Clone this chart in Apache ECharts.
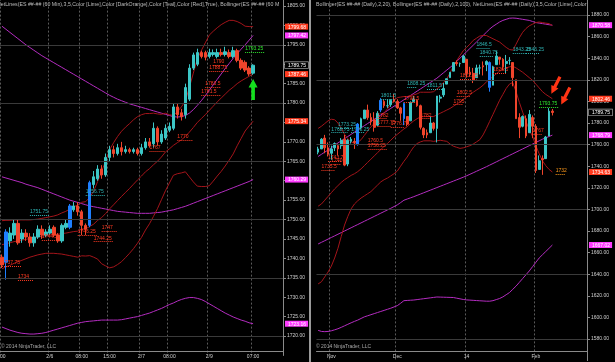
<!DOCTYPE html>
<html>
<head>
<meta charset="utf-8">
<script src="https://cdn.jsdelivr.net/npm/echarts@6.0.0/dist/echarts.min.js"></script>
<style>
html,body{margin:0;padding:0;background:#000;overflow:hidden}
#c{width:615px;height:362px}
</style>
</head>
<body>
<div id="c"></div>
<script>
// ================= LEFT PANEL : 60 Min =================
const leftCatCount = 71;
const leftTickIdx  = [0, 12, 20, 27, 35, 42, 52, 63];
const leftTickText = [':00', '2/6', '08:00', '15:00', '2/7', '08:00', '2/9', '07:00'];
// [open, close, low, high]
const leftCandles = [
[1740.3,1738.3,1737.5,1741],[1739,1746.8,1734.5,1747.5],[1744.5,1746.5,1743,1748],[1746,1749,1745,1750],
[1749,1744,1743.5,1750],[1745,1746.5,1744,1747.5],[1746.5,1745.5,1744.5,1747.5],[1745.5,1744,1743,1746.5],
[1744,1745.5,1743,1746.5],[1745.5,1747.5,1745,1748.5],[1747.5,1746,1745,1748.5],[1746,1746.8,1745.5,1747.5],
[1746.5,1747.5,1746,1748.5],[1748,1746,1745.5,1748.5],[1746,1744.5,1744,1746.5],[1744.5,1748.5,1744,1749],
[1748,1749,1747.5,1750],[1748,1753.5,1747.5,1754],[1752.5,1753.5,1752,1754.5],[1753.5,1752,1751,1754.5],
[1752,1748.5,1746,1752.5],[1748.5,1747.5,1746,1749],[1748.5,1759.5,1748,1760],[1759,1761,1758,1762.5],
[1760.5,1763,1760,1764],[1763,1761.5,1760.5,1764],[1761.5,1766,1761,1767],[1766,1768,1765,1769],
[1768,1767,1766,1769],[1767,1768.5,1766.5,1769.5],[1768.5,1767.5,1766.5,1770],[1767.5,1768,1767,1769],
[1768,1767.5,1767,1768.5],[1767.5,1768,1767,1768.5],[1768,1767,1766.5,1768.5],[1767,1768.5,1766.5,1769.5],
[1768.5,1770,1768,1771],[1770,1769,1768.5,1771],[1769.5,1773.5,1768.5,1775],[1773.5,1770,1769,1774],
[1770,1772,1769.5,1773],[1771,1773.5,1770.5,1774.5],[1773,1774,1772.5,1775],[1773.5,1779,1773,1780],
[1779,1777,1776,1780],[1777.5,1776.5,1775.5,1778.5],[1777,1784,1776,1785],[1781,1789,1780.5,1790],
[1789,1792.4,1788.5,1793],[1790,1793,1789.5,1794],[1793,1792,1791.5,1793.5],[1793,1791.8,1791,1793.5],
[1792,1793,1791.5,1794],[1792.5,1793,1792,1793.8],[1792,1793,1791.5,1794],[1793,1792.5,1792,1794],
[1792.5,1793.2,1792,1794.5],[1793,1792,1791.5,1793.8],[1792,1793.5,1791.5,1794.5],[1793.5,1791,1790.5,1794],
[1791,1789,1788.5,1791.5],[1790.5,1788.5,1788,1791],[1789,1787.5,1787,1789.5],[1787.7,1789.75,1787.3,1790]
];
const leftBlue = [1, 17, 22];
const leftUpper20 = [
1749.7,1749.8,1749.8,1749.9,1749.9,1749.9,1749.9,1749.9,1750.0,1750.1,
1750.3,1750.5,1750.7,1750.9,1751.2,1751.7,1752.1,1752.7,1753.3,1753.7,
1754.45,1754.6,1755.7,1757.3,1759.8,1762.4,1765.05,1767.95,1769.8,1771.4,
1772.75,1773.8,1774.7,1775.7,1776.5,1777.0,1777.3,1777.3,1777.4,1777.2,
1777.1,1777.4,1777.0,1776.8,1777.8,1779.0,1780.5,1784.0,1787.7,1791.4,
1793.5,1795.5,1797.5,1798.5,1799.4,1800.2,1800.8,1801.3,1801.3,1801.0,
1800.5,1799.8,1799.7,1799.68];
const leftMid20 = [
1743.5,1743.8,1744.0,1744.3,1744.5,1744.7,1744.9,1745.1,1745.3,1745.5,
1745.7,1745.9,1746.0,1746.1,1746.2,1746.4,1746.5,1746.7,1746.9,1747.0,
1747.55,1747.6,1748.2,1748.8,1749.8,1750.5,1751.55,1752.75,1753.8,1754.9,
1755.95,1757.0,1758.0,1759.1,1760.2,1761.2,1762.3,1763.1,1764.1,1765.0,
1766.1,1767.4,1768.2,1769.1,1769.8,1770.5,1771.4,1772.5,1773.7,1775.0,
1776.0,1777.0,1778.1,1779.2,1780.3,1781.3,1782.3,1783.3,1784.1,1785.0,
1785.7,1786.3,1786.9,1787.46];
const leftLower20 = [
1737.3,1737.8,1738.2,1738.7,1739.1,1739.5,1739.9,1740.3,1740.6,1740.9,
1741.1,1741.3,1741.3,1741.3,1741.2,1741.1,1740.9,1740.7,1740.5,1740.3,
1740.65,1740.6,1740.7,1740.3,1739.8,1738.6,1738.05,1737.55,1737.8,1738.4,
1739.15,1740.2,1741.3,1742.5,1743.9,1745.4,1747.3,1748.9,1750.8,1752.8,
1755.1,1757.4,1759.4,1761.4,1761.8,1762.0,1762.3,1761.0,1759.7,1758.6,
1758.5,1758.5,1758.7,1759.9,1761.2,1762.4,1763.8,1765.3,1766.9,1769.0,
1770.9,1772.8,1774.1,1775.34];
const leftUpper100 = [
1799.8,1799.0,1798.2,1797.4,1796.6,1795.8,1795.0,1794.3,1793.6,1792.9,
1792.2,1791.6,1791.0,1790.4,1789.8,1789.2,1788.6,1788.0,1787.4,1786.8,
1786.2,1785.6,1785.0,1784.4,1783.8,1783.2,1782.6,1782.0,1781.5,1781.0,
1780.6,1780.2,1779.8,1779.5,1779.2,1778.9,1778.6,1778.3,1778.0,1777.7,
1777.4,1777.1,1776.8,1776.5,1776.4,1776.5,1776.8,1777.4,1778.3,1779.4,
1780.6,1781.9,1783.3,1784.7,1786.1,1787.5,1788.9,1790.2,1791.5,1792.7,
1793.9,1795.0,1796.2,1797.42];
const leftMid100 = [
1761.0,1760.7,1760.4,1760.1,1759.8,1759.5,1759.1,1758.8,1758.5,1758.2,
1757.8,1757.4,1757.0,1756.6,1756.2,1755.8,1755.4,1755.0,1754.7,1754.4,
1754.1,1753.8,1753.5,1753.3,1753.1,1752.9,1752.7,1752.5,1752.3,1752.1,
1752.0,1751.9,1751.8,1751.7,1751.6,1751.6,1751.6,1751.6,1751.7,1751.8,
1751.9,1752.1,1752.3,1752.5,1752.8,1753.1,1753.4,1753.8,1754.2,1754.6,
1755.0,1755.4,1755.8,1756.2,1756.6,1757.0,1757.4,1757.8,1758.2,1758.6,
1759.0,1759.4,1759.8,1760.29];
const leftLower100 = [
1722.3,1721.9,1721.5,1721.2,1720.9,1720.7,1720.6,1720.5,1720.5,1720.6,
1720.7,1720.9,1721.2,1721.5,1721.8,1722.1,1722.4,1722.7,1723.0,1723.3,
1723.5,1723.7,1723.8,1723.9,1724.0,1724.1,1724.1,1724.1,1724.1,1724.1,
1724.2,1724.4,1724.6,1724.8,1725.0,1725.3,1725.6,1725.9,1726.3,1726.7,
1727.1,1727.6,1728.1,1728.5,1729.0,1729.4,1729.7,1729.9,1729.9,1729.7,
1729.4,1728.9,1728.3,1727.7,1727.1,1726.5,1725.9,1725.4,1724.9,1724.5,
1724.1,1723.8,1723.4,1723.16];
const leftGridLevels = [1720, 1735, 1750, 1765, 1780, 1795];
const leftTagValues = [1799.68, 1797.42, 1789.75, 1787.46, 1775.34, 1760.29, 1723.16];
const leftTagKinds  = ['r', 'm', 'k', 'r', 'r', 'm', 'm'];
// [text, startIndex, endIndex, price, colour]
const leftNotes = [
['1737.75',0,5,1738.0,'r'],['1734',4,8,1734.3,'r'],['1744.5',10,14,1744.6,'r'],
['1751.75',7,12,1751.2,'t'],['1756.75',21,26,1756.3,'t'],['1746.25',19,24,1745.9,'r'],
['1747',25,29,1747.0,'r'],['1744.25',23,28,1744.3,'r'],['1767',37,41,1767.7,'r'],
['1770',44,48,1770.5,'r'],['1781.5',50,55,1782.0,'r'],['1783.5',51,55,1784.0,'r'],
['1788.75',52,57,1788.3,'r'],['1790',53,56,1789.8,'r'],['1793.25',61,66,1793.0,'g']
];
const leftArrow = [63, 1783.5];

// ================= RIGHT PANEL : Daily =================
const rightCatCount = 82;
const rightTickIdx  = [4, 24, 45, 66];
const rightTickText = ['Nov', 'Dec', '14', 'Feb'];
const rightCandles = [
[1753,1756,1751,1758],[1756,1765,1756,1766],[1766,1757,1752,1769],[1757,1751,1749,1762],
[1752,1756,1746,1759],[1757,1761,1754,1762],[1759,1756,1750,1761],[1759,1764,1756,1766],
[1765,1741,1740,1769],[1742,1764,1740,1765],[1763,1765,1761,1767],[1763,1762,1756,1766],
[1760,1779,1759,1780],[1776,1784,1774,1785],[1784,1792,1784,1792],[1792,1785,1783,1797],
[1785,1781,1778,1789],[1783,1776,1772,1790],[1778,1789,1777,1791],[1792,1801,1790,1803],
[1800,1796,1794,1802],[1796,1796,1794,1802],[1797,1801,1795,1802],[1802,1800,1799,1807],
[1800,1794,1793,1802],[1794,1789,1782,1795],[1784,1798,1778,1799],[1786,1779,1777,1786],
[1782,1799,1782,1800],[1800,1802,1799,1805],[1801,1796,1795,1802],[1796,1776,1774,1797],
[1775,1769,1766,1776],[1771,1769,1766,1774],[1771,1780,1771,1786],[1780,1775,1773,1781],
[1775,1805,1762,1805],[1803,1804,1799,1806],[1806,1812,1804,1817],[1816,1821,1816,1821],
[1822,1827,1822,1827],[1828,1836,1828,1836],[1836,1835,1833,1838],[1835,1835,1832,1836],
[1836,1842,1836,1843],[1839,1826,1822,1839],[1827,1825,1823,1832],[1826,1820,1817,1831],
[1822,1831,1822,1834],[1831,1831,1825,1834],[1833,1832,1824,1837],[1834,1837,1828,1838],
[1836,1813,1809,1837],[1815,1832,1815,1833],[1834,1842,1834,1846.5],[1841,1839,1834,1841],
[1839,1832,1829,1840],[1835,1837,1826,1843],[1838,1838,1834,1841],[1836,1822,1814,1836],
[1820,1784,1784,1820],[1785,1776,1766,1789],[1777,1786,1776,1787],[1784,1768,1766,1787],
[1771,1788,1771,1792],[1785,1777,1766,1787],[1777,1736,1733.75,1779],[1737,1745,1737,1750],
[1747,1746,1732,1750],[1747,1767,1747,1768],[1768,1791,1768,1793.75],[1791,1789.75,1787,1793]
];
const rightBlue = [12, 19, 26, 52];
const rightUpper20 = [
1775,1777,1779.5,1782,1783.5,1783,1780,1775,1769.5,1765.5,
1762.5,1761,1762,1764.5,1768.5,1772.5,1776.5,1779.5,1782.5,1785.5,
1789.5,1793,1797,1801,1803.5,1804,1804.5,1804.5,1805.5,1806,
1807,1808.5,1808.5,1808.5,1808.5,1809,1811.5,1814,1817.5,1821,
1826.5,1832.5,1837.5,1842.5,1847,1850,1853,1856.5,1858.5,1860.5,
1861,1861,1859.5,1858,1856.5,1855,1852.5,1850,1848,1847.5,
1853,1859,1864,1867.5,1870,1871.5,1873,1873.5,1873,1872.5,
1872,1870.29];
const rightMid20 = [
1703,1705,1708.5,1712,1715.5,1719,1722,1725,1727.5,1729.5,
1731.5,1733,1735,1737.5,1740.5,1743.5,1746.5,1749.5,1752.5,1755.5,
1758.5,1761,1764,1767,1769.5,1772,1774.5,1776.5,1779.5,1782,
1784,1785.5,1786,1786,1786,1786,1787.5,1789,1790.5,1792,
1793.5,1795.5,1797.5,1799.5,1802,1804,1806,1808.5,1810.5,1812.5,
1815,1818,1820.5,1823,1825.5,1828,1829.5,1831,1832,1832.5,
1831,1829,1827,1824.5,1822,1819.5,1816,1812.5,1809,1806.5,
1804.5,1802.46];
const rightLower20 = [
1631,1633,1637.5,1642,1647.5,1655,1664,1675,1685.5,1693.5,
1700.5,1705,1708,1710.5,1712.5,1714.5,1716.5,1719.5,1722.5,1725.5,
1727.5,1729,1731,1733,1735.5,1740,1744.5,1748.5,1753.5,1758,
1761,1762.5,1763.5,1763.5,1763.5,1763,1763.5,1764,1763.5,1763,
1760.5,1758.5,1757.5,1756.5,1757,1758,1759,1760.5,1762.5,1764.5,
1769,1775,1781.5,1788,1794.5,1801,1806.5,1812,1816,1817.5,
1809,1799,1790,1781.5,1774,1767.5,1759,1751.5,1745,1740.5,
1737,1734.63];
const rightUpper100 = [
1749,1751,1753,1755,1757,1759.5,1761.5,1763.5,1765.5,1767.5,
1769.5,1771.5,1773.5,1775.5,1777.5,1779.5,1781.5,1783.5,1785.5,1787.5,
1789.5,1791.5,1793.5,1795.5,1797.5,1799.5,1801.5,1803.5,1805.5,1807.5,
1809.5,1811.5,1813.5,1815.5,1817.5,1819.5,1821.5,1824,1826.5,1829,
1831.5,1834,1837,1840,1843,1846,1849,1852,1855,1858,
1861,1864,1867,1869.5,1871.5,1873.5,1875,1876,1877,1877.2,
1877,1876.5,1876,1875.5,1875,1874,1873,1872.5,1872,1871.5,
1871,1870.58];
const rightMid100 = [
1668,1669.5,1671,1672.5,1674,1675.5,1677,1678.5,1680,1681.5,
1683,1684.5,1686,1687.5,1689,1690.5,1692,1693.5,1695,1696.5,
1698,1699.5,1701,1702.6,1704.2,1706.3,1708.5,1709.6,1710.7,1711.8,
1713,1714.2,1715.4,1716.6,1717.8,1719,1720.2,1721.4,1722.6,1723.8,
1725,1726.2,1727.4,1728.6,1729.8,1731.1,1732.5,1733.9,1735.3,1736.7,
1738.1,1739.5,1741,1742.5,1744,1745.5,1747,1748.5,1750,1751.5,
1753,1754.5,1756,1757.5,1759,1760.5,1762,1763.5,1765,1766.3,
1767.5,1768.79];
const rightLower100 = [
1588,1587,1586.8,1587,1587.6,1588.5,1589.5,1590.8,1592.2,1593.6,
1595,1596.3,1597.5,1599,1600.5,1601.5,1602.5,1603.5,1604.5,1605.5,
1606.5,1607.5,1608.5,1609.7,1610.9,1613.1,1615.5,1615.7,1615.9,1616.1,
1616.5,1616.9,1617.3,1617.7,1618.1,1618.5,1618.9,1618.8,1618.7,1618.6,
1618.5,1618.4,1617.8,1617.2,1616.6,1616.2,1616.0,1615.8,1615.6,1615.4,
1615.2,1615.0,1615.0,1615.5,1616.5,1617.5,1619.0,1621.0,1623.0,1626.0,
1629,1632.5,1636,1639.5,1643,1647,1651,1655,1658,1661,
1664,1667.02];
const rightGridLevels = [1580, 1640, 1700, 1760, 1820, 1880];
const rightTagValues = [1870.58, 1802.46, 1789.75, 1768.79, 1734.63, 1667.02];
const rightTagKinds  = ['m', 'r', 'k', 'm', 'r', 'm'];
const rightNotes = [
['1773.25',6,11,1775,'t'],['1768.75',4,9,1771,'t'],['1770.25',10,14,1771,'t'],
['1743.75',3,7,1745,'r'],['1740',4,7,1741.5,'r'],['1735.5',1,5,1736.5,'r'],
['1782',18,21,1784,'r'],['1777.75',18,22,1777,'r'],['1776.75',22,26,1776,'r'],
['1760.5',15,19,1760,'r'],['1756.25',15,21,1756,'r'],['1801.5',19,23,1802,'t'],
['1808.25',27,30,1813,'t'],['1798.5',26,30,1799.5,'r'],['1782',31,34,1784,'r'],
['1811.5',33,38,1811,'t'],['1846.5',48,52,1849,'t'],['1840.75',49,53,1842,'t'],
['1843.25',59,63,1845,'t'],['1846.25',63,67,1845,'t'],['1822.25',43,48,1820.5,'r'],
['1826.5',53,57,1826,'r'],['1802.5',42,46,1804.5,'r'],['1795',41,44,1797,'r'],
['1793.75',67,73,1795,'g'],['1767',65,68,1769.5,'r'],['1732',72,75,1733,'o']
];
const rightArrows = [[72, 1815], [75, 1805]];

// ================= BUILD =================
const FONT = 'Liberation Sans, Arial, sans-serif';
const UP = '#3cc6c6', DOWN = '#f0452c', BLUE = '#1e7fff';
const DARKRED = '#a3141a', PURPLE = '#b42cc0';
const NOTE = { r: '#ff3a22', t: '#2fb4b4', g: '#2ee62e', o: '#ff9a1a' };
const ARROW = 'path://M5,0 L10,9 L7,9 L7,22 L3,22 L3,9 L0,9 Z';

function cats(n, idx, txt) {
  const a = [];
  for (let i = 0; i < n; i++) a.push('');
  idx.forEach((k, j) => { a[k] = txt[j]; });
  return a;
}
function candleData(arr, blue) {
  return arr.map((d, i) => blue.indexOf(i) >= 0
    ? { value: d, itemStyle: { color: BLUE, color0: BLUE, borderColor: BLUE, borderColor0: BLUE } }
    : d);
}
function markLines(levels, notes) {
  const data = levels.map(v => ({ yAxis: v, lineStyle: { color: '#3a3a3a', type: 'solid', width: 1 }, label: { show: false } }));
  notes.forEach(n => {
    data.push([
      { coord: [n[1], n[3]], lineStyle: { color: NOTE[n[4]], type: [1, 1], width: 1 },
        label: { show: true, position: 'insideStartTop', distance: [0, 1], formatter: n[0], color: NOTE[n[4]], fontSize: 5, fontFamily: FONT } },
      { coord: [n[2], n[3]] }
    ]);
  });
  return { silent: true, symbol: 'none', animation: false, data: data };
}
function tagFormatter(vals, kinds) {
  return function (v) {
    for (let j = 0; j < vals.length; j++) if (Math.abs(vals[j] - v) < 1e-6) return '{' + kinds[j] + '|' + vals[j].toFixed(2) + '}';
    return '';
  };
}
const tagRich = {
  r: { backgroundColor: '#ff3a1e', color: '#fff', fontSize: 5, padding: [1, 2, 0, 3], fontFamily: FONT },
  m: { backgroundColor: '#ff3cff', color: '#fff', fontSize: 5, padding: [1, 2, 0, 3], fontFamily: FONT },
  k: { backgroundColor: '#000', color: '#fff', borderColor: '#bbb', borderWidth: 0.6, fontSize: 5, padding: [1, 2, 0, 3], fontFamily: FONT }
};
function lineSeries(data, color, xi, yi) {
  return { type: 'line', data: data, xAxisIndex: xi, yAxisIndex: yi, symbol: 'none', silent: true,
    lineStyle: { color: color, width: 1 }, z: 1, animation: false };
}
function yMain(grid, min, max, interval) {
  return { type: 'value', gridIndex: grid, position: 'right', min: min, max: max, interval: interval,
    axisLine: { show: true, lineStyle: { color: '#8a8a8a' } },
    axisTick: { show: true, length: 3, lineStyle: { color: '#8a8a8a' } },
    splitLine: { show: false },
    axisLabel: { color: '#cfcfcf', fontSize: 5, fontFamily: FONT, margin: 4, showMinLabel: false, showMaxLabel: false,
      formatter: v => v.toFixed(2) } };
}
function yTags(grid, min, max, vals, kinds) {
  return { type: 'value', gridIndex: grid, position: 'right', min: min, max: max, z: 10,
    axisLine: { show: false }, axisTick: { show: false }, splitLine: { show: false },
    axisLabel: { customValues: vals, formatter: tagFormatter(vals, kinds), rich: tagRich, margin: 2, fontSize: 5 } };
}
function xAxisDef(grid, data, tickIdx, offset) {
  return { type: 'category', gridIndex: grid, data: data, boundaryGap: true, offset: offset,
    axisLine: { show: true, lineStyle: { color: '#8a8a8a' } },
    axisTick: { show: false },
    axisLabel: { color: '#cfcfcf', fontSize: 5, fontFamily: FONT, margin: 3,
      interval: (i) => tickIdx.indexOf(i) >= 0 },
    splitLine: { show: true, interval: (i) => tickIdx.indexOf(i) >= 0,
      lineStyle: { color: '#5a5a5a', type: [2, 2], width: 1 } } };
}
function arrowPoint(a, color, size, rot) {
  return { coord: a, symbol: ARROW, symbolSize: size, symbolRotate: rot, symbolKeepAspect: false,
    itemStyle: { color: color }, label: { show: false } };
}

const leftCats = cats(leftCatCount, leftTickIdx, leftTickText);
const rightCats = cats(rightCatCount, rightTickIdx, rightTickText);

const option = {
  backgroundColor: '#000',
  animation: false,
  grid: [
    { left: 0, top: -13.4, width: 283, height: 368.8, outerBoundsMode: 'none', containLabel: false },
    { left: 316.5, top: -6.6, width: 270.5, height: 367.2, outerBoundsMode: 'none', containLabel: false }
  ],
  xAxis: [
    xAxisDef(0, leftCats, leftTickIdx, -4.4),
    xAxisDef(1, rightCats, rightTickIdx, -9.6)
  ],
  yAxis: [
    yMain(0, 1715, 1810, 5),
    yTags(0, 1715, 1810, leftTagValues, leftTagKinds),
    yMain(1, 1560, 1900, 20),
    yTags(1, 1560, 1900, rightTagValues, rightTagKinds)
  ],
  graphic: [
    { type: 'rect', shape: { x: 309, y: 0, width: 2, height: 362 }, style: { fill: '#9a9a9a' }, silent: true },
    { type: 'text', x: -3, y: 2, style: { text: 'NetLines(ES ##-## (60 Min),3,5,Color [Lime],Color [DarkOrange],Color [Teal],Color [Red],True), Bollinger(ES ##-## (60 M', fill: '#bdbdbd', fontSize: 5.25, fontFamily: FONT } },
    { type: 'text', x: 316, y: 2, style: { text: 'Bollinger(ES ##-## (Daily),2,20), Bollinger(ES ##-## (Daily),2,100), NetLines(ES ##-## (Daily),3,5,Color [Lime],Color', fill: '#bdbdbd', fontSize: 5.25, fontFamily: FONT } },
    { type: 'text', x: 1, y: 344, style: { text: '\u00a9 2014 NinjaTrader, LLC', fill: '#a8a8a8', fontSize: 5, fontFamily: FONT } },
    { type: 'text', x: 316, y: 344, style: { text: '\u00a9 2014 NinjaTrader, LLC', fill: '#a8a8a8', fontSize: 5, fontFamily: FONT } }
  ],
  series: [
    lineSeries(leftUpper100, PURPLE, 0, 0),
    lineSeries(leftMid100, PURPLE, 0, 0),
    lineSeries(leftLower100, PURPLE, 0, 0),
    lineSeries(leftUpper20, DARKRED, 0, 0),
    lineSeries(leftMid20, DARKRED, 0, 0),
    lineSeries(leftLower20, DARKRED, 0, 0),
    {
      type: 'candlestick', xAxisIndex: 0, yAxisIndex: 0, barWidth: 3, z: 3,
      data: candleData(leftCandles, leftBlue),
      itemStyle: { color: UP, color0: DOWN, borderColor: UP, borderColor0: DOWN, borderWidth: 1 },
      markLine: markLines(leftGridLevels, leftNotes),
      markPoint: { silent: true, animation: false, data: [ arrowPoint(leftArrow, '#14e01e', [9, 21], 0) ] }
    },
    lineSeries(rightUpper100, PURPLE, 1, 2),
    lineSeries(rightMid100, PURPLE, 1, 2),
    lineSeries(rightLower100, PURPLE, 1, 2),
    lineSeries(rightUpper20, DARKRED, 1, 2),
    lineSeries(rightMid20, DARKRED, 1, 2),
    lineSeries(rightLower20, DARKRED, 1, 2),
    {
      type: 'candlestick', xAxisIndex: 1, yAxisIndex: 2, barWidth: 2.2, z: 3,
      data: candleData(rightCandles, rightBlue),
      itemStyle: { color: UP, color0: DOWN, borderColor: UP, borderColor0: DOWN, borderWidth: 1 },
      markLine: markLines(rightGridLevels, rightNotes),
      markPoint: { silent: true, animation: false, data: rightArrows.map(a => arrowPoint(a, '#ff3414', [8, 19], 153)) }
    }
  ]
};
const chart = echarts.init(document.getElementById('c'), null, { renderer: 'canvas', width: 615, height: 362 });
chart.setOption(option);
</script>
</body>
</html>
